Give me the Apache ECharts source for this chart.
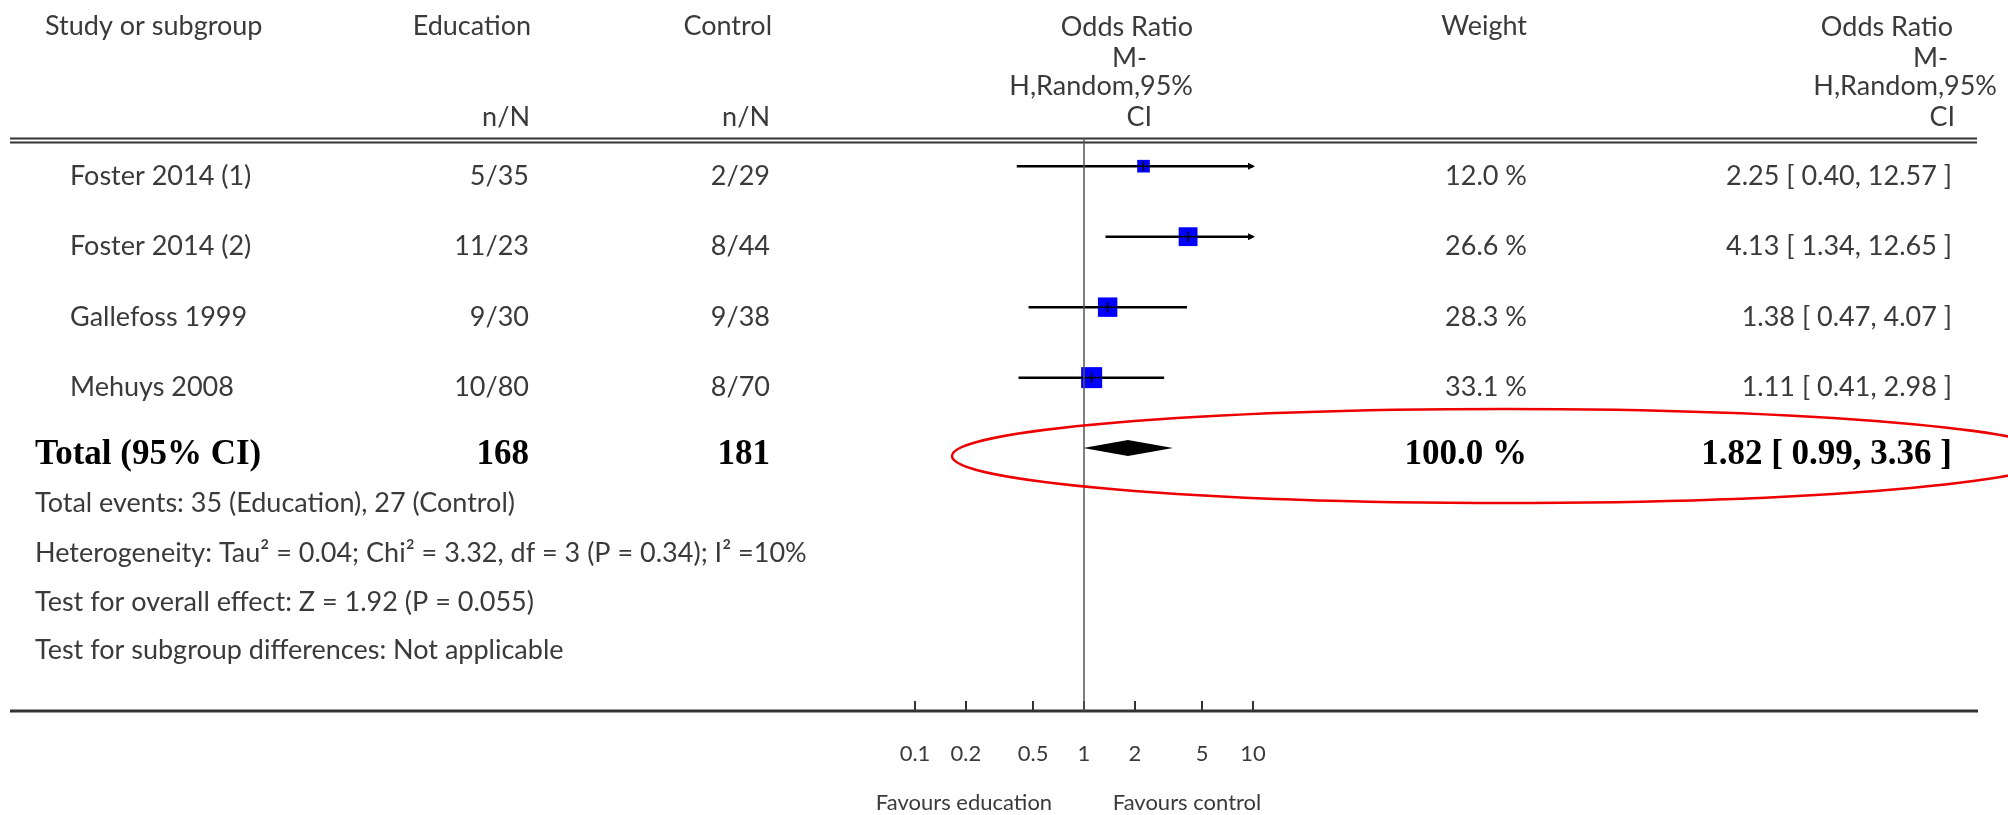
<!DOCTYPE html>
<html>
<head>
<meta charset="utf-8">
<script src="https://cdn.jsdelivr.net/npm/echarts@6/dist/echarts.min.js"></script>
<style>
html, body { margin: 0; padding: 0; background: #fff; }
#forest { width: 2008px; height: 815px; }
</style>
</head>
<body>
<div id="forest"></div>
<script>
'use strict';
// study rows
var studies = ['Foster 2014 (1)', 'Foster 2014 (2)', 'Gallefoss 1999', 'Mehuys 2008'];
var eduNN = ['5/35', '11/23', '9/30', '10/80'];
var ctrlNN = ['2/29', '8/44', '9/38', '8/70'];
var oddsRatio = [2.25, 4.13, 1.38, 1.11];
var ciLow = [0.40, 1.34, 0.47, 0.41];
var ciHigh = [12.57, 12.65, 4.07, 2.98];
var weights = [12.0, 26.6, 28.3, 33.1];
// pooled row
var totalLabel = 'Total (95% CI)';
var totalEdu = 168, totalCtrl = 181;
var totalWeight = 100.0;
var totalOR = [1.82, 0.99, 3.36]; // estimate, low, high
// axis
var tickValues = [0.1, 0.2, 0.5, 1, 2, 5, 10];
var footNotes = [
	'Total events: 35 (Education), 27 (Control)',
	'Heterogeneity: Tau\u00b2 = 0.04; Chi\u00b2 = 3.32, df = 3 (P = 0.34); I\u00b2 =10%',
	'Test for overall effect: Z = 1.92 (P = 0.055)',
	'Test for subgroup differences: Not applicable'
];

var SANS = 'Lato';
var SERIF = 'Liberation Serif';
var TXT = '#3a3a3a';

function fmtCI(est, lo, hi) {
	return est.toFixed(2) + ' [ ' + lo.toFixed(2) + ', ' + hi.toFixed(2) + ' ]';
}

var chart = echarts.init(document.getElementById('forest'));

// table text, one row per data item, y taken from the y axis
function renderTableRow(params, api) {
	var i = params.dataIndex;
	var y = api.coord([1, i])[1];
	var cells, style;
	if (i < studies.length) {
		y += 10;
		style = {fontFamily: SANS, fontSize: 27, fill: TXT};
		cells = [
			[studies[i], 70, 'left'],
			[eduNN[i], 529, 'right'],
			[ctrlNN[i], 770, 'right'],
			[weights[i].toFixed(1) + ' %', 1527, 'right'],
			[fmtCI(oddsRatio[i], ciLow[i], ciHigh[i]), 1952, 'right']
		];
	} else {
		y += 7;
		style = {fontFamily: SERIF, fontWeight: 'bold', fontSize: 35, fill: '#000'};
		cells = [
			[totalLabel, 35, 'left'],
			[String(totalEdu), 529, 'right'],
			[String(totalCtrl), 770, 'right'],
			[totalWeight.toFixed(1) + ' %', 1527, 'right'],
			[fmtCI(totalOR[0], totalOR[1], totalOR[2]), 1952, 'right']
		];
	}
	return {
		type: 'group',
		children: cells.map(function (c) {
			return {
				type: 'text',
				x: c[1], y: y,
				style: echarts.util.extend({text: c[0], align: c[2], verticalAlign: 'middle'}, style)
			};
		})
	};
}

// CI line + weighted box for each study
function renderStudy(params, api) {
	var i = api.value(1);
	var est = api.coord([api.value(0), i]);
	var lo = api.coord([Math.max(api.value(2), 0.1), i]);
	var hiVal = api.value(3);
	var hi = api.coord([Math.min(hiVal, 10), i]);
	var side = 3.65 * Math.sqrt(api.value(4));
	var children = [
		{type: 'line', shape: {x1: lo[0], y1: lo[1], x2: hi[0], y2: hi[1]},
			style: {stroke: '#000', lineWidth: 2.5}, z2: 1},
		{type: 'rect', shape: {x: est[0] - side / 2, y: est[1] - side / 2, width: side, height: side},
			style: {fill: '#0000ff'}, z2: 2},
		{type: 'line', shape: {x1: est[0] - side / 2, y1: est[1], x2: est[0] + side / 2, y2: est[1]},
			style: {stroke: '#000', lineWidth: 1.5}, z2: 3},
		{type: 'line', shape: {x1: est[0], y1: est[1] - 5, x2: est[0], y2: est[1] + 5},
			style: {stroke: '#000', lineWidth: 1.5}, z2: 3}
	];
	if (hiVal > 10) {
		children.push({type: 'polygon',
			shape: {points: [[hi[0] + 2, hi[1]], [hi[0] - 5, hi[1] - 3.5], [hi[0] - 5, hi[1] + 3.5]]},
			style: {fill: '#000'}, z2: 2});
	}
	return {type: 'group', children: children};
}

function renderDiamond(params, api) {
	var i = api.value(1);
	var est = api.coord([api.value(0), i]);
	var lo = api.coord([api.value(2), i]);
	var hi = api.coord([api.value(3), i]);
	var h = 8;
	return {
		type: 'polygon',
		shape: {points: [[lo[0], lo[1]], [est[0], est[1] - h], [hi[0], hi[1]], [est[0], est[1] + h]]},
		style: {fill: '#000'}
	};
}

var studyData = studies.map(function (s, i) {
	return [oddsRatio[i], i, ciLow[i], ciHigh[i], weights[i]];
});
var tableData = studies.map(function (s, i) { return [1, i]; }).concat([[1, studies.length]]);

function headText(txt, x, y, align) {
	return {type: 'text', x: x, y: y, z: 10,
		style: {text: txt, align: align, verticalAlign: 'middle', fontFamily: SANS, fontSize: 27, fill: TXT}};
}

var graphics = [
	headText('Study or subgroup', 45, 26, 'left'),
	headText('Education', 531, 26, 'right'),
	headText('n/N', 530, 117, 'right'),
	headText('Control', 772, 26, 'right'),
	headText('n/N', 770, 117, 'right'),
	headText('Odds Ratio', 1193, 27, 'right'),
	headText('M-', 1147, 58, 'right'),
	headText('H,Random,95%', 1193, 86, 'right'),
	headText('CI', 1152, 117, 'right'),
	headText('Weight', 1527, 26, 'right'),
	headText('Odds Ratio', 1953, 27, 'right'),
	headText('M-', 1948, 58, 'right'),
	headText('H,Random,95%', 1997, 86, 'right'),
	headText('CI', 1955, 117, 'right'),
	// double rule under the header
	{type: 'line', shape: {x1: 10, y1: 138.5, x2: 1977, y2: 138.5}, style: {stroke: '#333', lineWidth: 2}, z: 5},
	{type: 'line', shape: {x1: 10, y1: 142.5, x2: 1977, y2: 142.5}, style: {stroke: '#333', lineWidth: 2}, z: 5},
	// bottom rule (the axis line)
	{type: 'line', shape: {x1: 10, y1: 711, x2: 1978, y2: 711}, style: {stroke: '#333', lineWidth: 3}, z: 5},
	{type: 'text', x: 964, y: 803, z: 10,
		style: {text: 'Favours education', align: 'center', verticalAlign: 'middle', fontFamily: SANS, fontSize: 22, fill: TXT}},
	{type: 'text', x: 1187, y: 803, z: 10,
		style: {text: 'Favours control', align: 'center', verticalAlign: 'middle', fontFamily: SANS, fontSize: 22, fill: TXT}},
	// red highlight round the pooled result
	{type: 'ellipse', shape: {cx: 1505, cy: 456, rx: 553, ry: 47},
		style: {fill: 'none', stroke: '#ee0000', lineWidth: 2.5}, z: 20}
];
var footY = [503, 553, 602, 650];
footNotes.forEach(function (t, k) {
	graphics.push({type: 'text', x: 35, y: footY[k], z: 10,
		style: {text: t, align: 'left', verticalAlign: 'middle', fontFamily: SANS, fontSize: 27, fill: TXT}});
});

var option = {
	animation: false,
	backgroundColor: '#fff',
	grid: {left: 915, right: 755, top: 138, bottom: 104, containLabel: false},
	xAxis: {
		type: 'log',
		logBase: 10,
		min: 0.1,
		max: 10,
		position: 'bottom',
		axisLine: {show: false, onZero: false},
		splitLine: {show: false},
		axisTick: {show: true, inside: true, length: 10, customValues: tickValues,
			lineStyle: {color: '#333', width: 2}},
		axisLabel: {show: true, margin: 32, customValues: tickValues,
			fontFamily: SANS, fontSize: 22, color: TXT,
			formatter: function (v) { return String(v); }}
	},
	yAxis: {
		type: 'value',
		inverse: true,
		min: -0.4,
		max: 7.73,
		show: false
	},
	series: [
		{
			name: 'studies',
			type: 'custom',
			renderItem: renderStudy,
			encode: {x: 0, y: 1},
			data: studyData,
			clip: false,
			z: 3,
			markLine: {
				silent: true,
				symbol: ['none', 'none'],
				label: {show: false},
				lineStyle: {color: '#555', width: 1.5, type: 'solid'},
				data: [{xAxis: 1}]
			}
		},
		{
			name: 'total',
			type: 'custom',
			renderItem: renderDiamond,
			encode: {x: 0, y: 1},
			data: [[totalOR[0], studies.length, totalOR[1], totalOR[2]]],
			clip: false,
			z: 3
		},
		{
			name: 'table',
			type: 'custom',
			renderItem: renderTableRow,
			encode: {x: 0, y: 1},
			data: tableData,
			clip: false,
			silent: true
		}
	],
	graphic: graphics
};
chart.setOption(option);
</script>
</body>
</html>
